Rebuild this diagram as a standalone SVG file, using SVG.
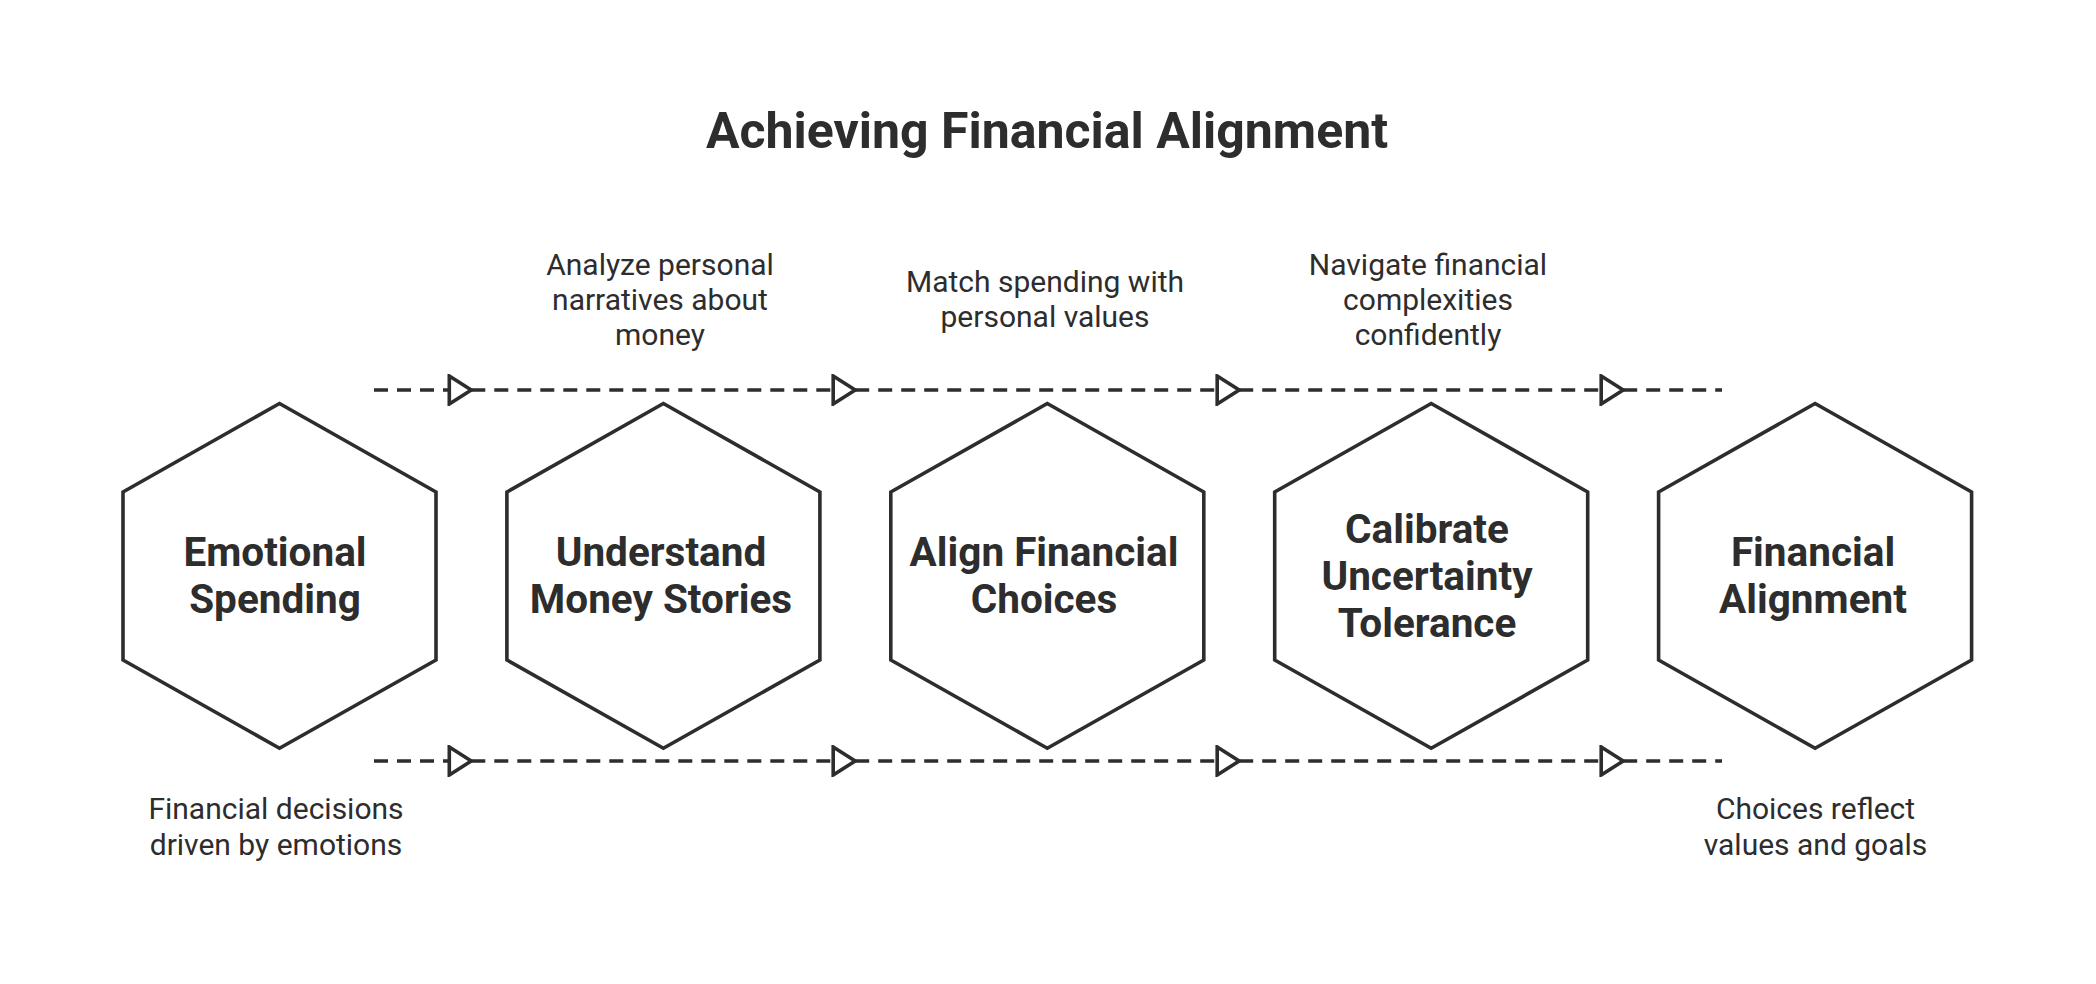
<svg xmlns="http://www.w3.org/2000/svg" width="2096" height="984" viewBox="0 0 2096 984">
<style>
.hex{fill:#ffffff;stroke:#2d2d2d;stroke-width:3.6;stroke-linejoin:miter}
.lbl{font-family:Roboto,"Liberation Sans",sans-serif;font-weight:700;font-size:40.5px;fill:#2d2d2d;text-anchor:middle}
.desc{font-family:Roboto,"Liberation Sans",sans-serif;font-weight:400;font-size:30px;fill:#2d2d2d;text-anchor:middle}
.title{font-family:Roboto,"Liberation Sans",sans-serif;font-weight:700;font-size:50px;fill:#2d2d2d;text-anchor:middle}
.dash{fill:none;stroke:#2d2d2d;stroke-width:3.6;stroke-dasharray:14 9}
</style>
<defs>
<marker id="arr" markerUnits="userSpaceOnUse" viewBox="0 0 26 32" refX="24" refY="16" markerWidth="26" markerHeight="32" orient="auto">
<path d="M2,2 L24,16 L2,30 Z" fill="#ffffff" stroke="#2d2d2d" stroke-width="3.6" stroke-linejoin="miter"/>
</marker>
</defs>
<rect width="2096" height="984" fill="#ffffff"/>
<text class="title" x="1047" y="147.5">Achieving Financial Alignment</text>

<g id="connectors">
<path class="dash" d="M374,390 L471.3,390" marker-end="url(#arr)"/>
<path class="dash" d="M471.3,390 L855.2,390" marker-end="url(#arr)"/>
<path class="dash" d="M855.2,390 L1239.2,390" marker-end="url(#arr)"/>
<path class="dash" d="M1239.2,390 L1623.2,390" marker-end="url(#arr)"/>
<path class="dash" d="M1623.2,390 L1722,390"/>
<path class="dash" d="M374,761 L471.3,761" marker-end="url(#arr)"/>
<path class="dash" d="M471.3,761 L855.2,761" marker-end="url(#arr)"/>
<path class="dash" d="M855.2,761 L1239.2,761" marker-end="url(#arr)"/>
<path class="dash" d="M1239.2,761 L1623.2,761" marker-end="url(#arr)"/>
<path class="dash" d="M1623.2,761 L1722,761"/>
</g>

<g id="node-emotional-spending">
<polygon class="hex" points="279.5,403.5 436,492 436,660 279.5,748.3 123,660 123,492"/>
<text class="lbl" x="275" y="566">Emotional</text>
<text class="lbl" x="275" y="612.5">Spending</text>
<text class="desc" x="276" y="819">Financial decisions</text>
<text class="desc" x="276" y="855">driven by emotions</text>
</g>

<g id="node-understand-money-stories">
<polygon class="hex" points="663.4,403.5 819.9,492 819.9,660 663.4,748.3 506.9,660 506.9,492"/>
<text class="lbl" x="661" y="566">Understand</text>
<text class="lbl" x="661" y="612.5">Money Stories</text>
<text class="desc" x="660" y="275">Analyze personal</text>
<text class="desc" x="660" y="310">narratives about</text>
<text class="desc" x="660" y="345">money</text>
</g>

<g id="node-align-financial-choices">
<polygon class="hex" points="1047.3,403.5 1203.8,492 1203.8,660 1047.3,748.3 890.8,660 890.8,492"/>
<text class="lbl" x="1044" y="566">Align Financial</text>
<text class="lbl" x="1044" y="612.5">Choices</text>
<text class="desc" x="1045" y="292">Match spending with</text>
<text class="desc" x="1045" y="327">personal values</text>
</g>

<g id="node-calibrate-uncertainty-tolerance">
<polygon class="hex" points="1431.2,403.5 1587.7,492 1587.7,660 1431.2,748.3 1274.7,660 1274.7,492"/>
<text class="lbl" x="1427" y="543.3">Calibrate</text>
<text class="lbl" x="1427" y="590.3">Uncertainty</text>
<text class="lbl" x="1427" y="637.3">Tolerance</text>
<text class="desc" x="1428" y="275">Navigate financial</text>
<text class="desc" x="1428" y="310">complexities</text>
<text class="desc" x="1428" y="345">confidently</text>
</g>

<g id="node-financial-alignment">
<polygon class="hex" points="1815.1,403.5 1971.6,492 1971.6,660 1815.1,748.3 1658.6,660 1658.6,492"/>
<text class="lbl" x="1813" y="566">Financial</text>
<text class="lbl" x="1813" y="612.5">Alignment</text>
<text class="desc" x="1815.5" y="819">Choices reflect</text>
<text class="desc" x="1815.5" y="855">values and goals</text>
</g>
</svg>
